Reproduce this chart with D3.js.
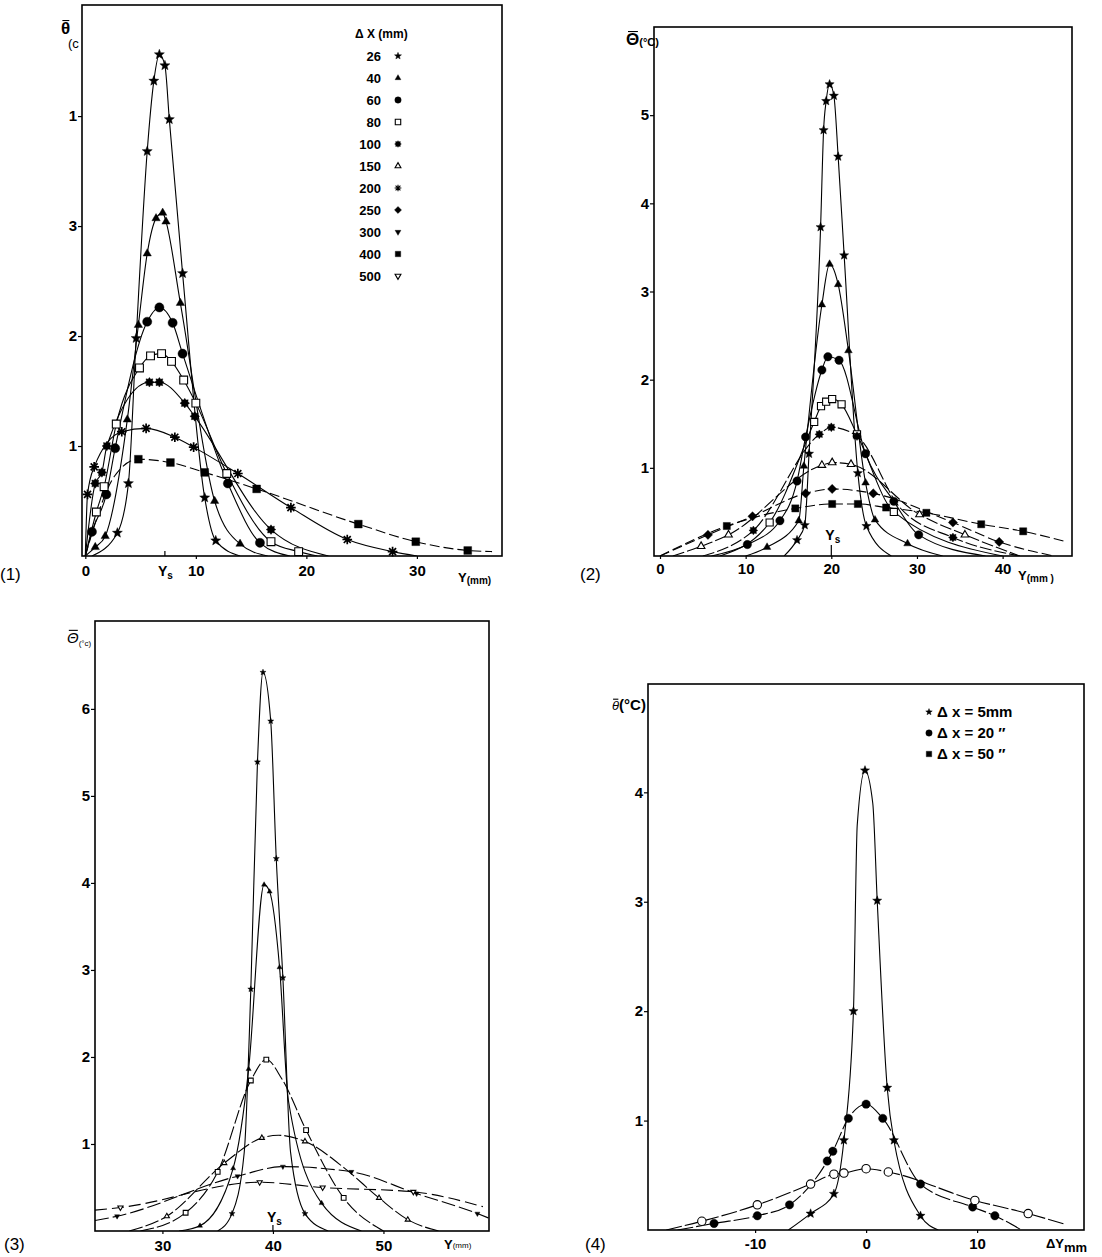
<!DOCTYPE html>
<html><head><meta charset="utf-8">
<script src="https://cdn.jsdelivr.net/npm/d3@7"></script>
<style>body{margin:0;background:#fff}svg{display:block}</style>
</head><body><svg id="fig" width="1102" height="1257"></svg>
<script>
// Mean temperature excess profiles across the plume, four figures.
// Each point is [Y, theta]; a third element 0 marks a curve-only point (no symbol).

// ---------- figure (1) ----------
const p1_dx26  = [[0.6,0,0],[2.9,0.21],[3.9,0.66],[4.6,1.98],[5.6,3.68],[6.2,4.32],[6.7,4.56],[7.2,4.46],[7.6,3.97],[8.8,2.57],[10.8,0.53],[11.8,0.14],[14,0,0]];
const p1_dx40  = [[0,0,0],[0.9,0.08],[1.8,0.18],[3.8,1.24],[4.8,2.1],[5.6,2.75],[6.4,3.07],[7.0,3.12],[7.3,3.04],[8.6,2.3],[11.7,0.5],[14.0,0.11],[16.5,0,0]];
const p1_dx60  = [[0,0,0],[0.6,0.22],[1.9,0.56],[2.7,0.98],[5.6,2.13],[6.7,2.26],[7.9,2.12],[8.8,1.84],[12.9,0.66],[15.8,0.12],[18.5,0,0]];
const p1_dx80  = [[0,0,0],[1.0,0.40],[1.7,0.63],[2.8,1.2],[4.9,1.71],[5.9,1.82],[6.9,1.84],[7.8,1.77],[8.9,1.60],[10.0,1.39],[12.8,0.75],[16.8,0.13],[19.3,0.04],[21,0,0]];
const p1_dx100 = [[0,0,0],[0.9,0.66],[1.5,0.76],[1.95,1.0],[5.8,1.58],[6.7,1.58],[9.0,1.39],[9.9,1.27],[16.8,0.24],[22,0,0]];
const p1_dx200 = [[0,0,0],[0.2,0.56],[0.8,0.81],[3.3,1.13],[5.5,1.16],[8.1,1.08],[9.8,0.99],[13.8,0.75],[18.6,0.44],[23.7,0.15],[27.8,0.04],[30,0,0]];
const p1_dx400 = [[0,0,0],[2.6,0.72,0],[4.8,0.88],[7.7,0.85],[10.8,0.76],[15.5,0.61],[24.7,0.29],[29.9,0.13],[34.6,0.05],[36.8,0.04,0]];
const p1_Ys = 7.2;
const p1XTicks = [0,10,20,30];
const p1YTicks = [1,2,3,4];
const p1YTickText = ["1","2","3","1"];
const p1LegendLabels = ["26","40","60","80","100","150","200","250","300","400","500"];
const p1LegendSymbols = ["star","tri","dot","sqo","rose","trio","ast","dia","trid","sq","triod"];

// ---------- figure (2) ----------
const p2_dx26  = [[14.5,0,0],[16.0,0.18],[16.9,0.35],[17.4,1.16],[18.75,3.73],[19.1,4.83],[19.4,5.16],[19.8,5.35],[20.3,5.22],[20.8,4.53],[21.5,3.41],[23.1,0.94],[24.1,0.34],[27,0,0]];
const p2_dx40  = [[10,0,0],[12.5,0.10],[16.2,0.40],[16.8,1.02],[18.9,2.85],[19.8,3.31],[20.8,3.08],[22.0,2.33],[24.0,0.83],[25.1,0.41],[28.9,0.14],[33,0,0]];
const p2_dx60  = [[6,0,0],[10.2,0.13],[14.0,0.40],[16.0,0.85],[17.0,1.35],[18.9,2.11],[19.6,2.26],[20.9,2.22],[24.0,1.16],[27.3,0.62],[30.2,0.24],[38,0,0]];
const p2_dx80  = [[7,0,0],[12.8,0.38],[18.0,1.52],[18.8,1.70],[19.4,1.75],[20.1,1.78],[21.2,1.72],[23.0,1.38],[27.3,0.50],[40,0,0]];
const p2_dx100 = [[5,0,0],[10.9,0.29],[18.6,1.38],[20.0,1.46],[23.0,1.36],[28,0.55,0],[34.2,0.21],[42,0,0]];
const p2_dx150 = [[1.5,0,0],[4.8,0.11],[8.0,0.24],[18.9,1.03],[20.1,1.06],[22.3,1.04],[30.3,0.47],[35.6,0.24],[42,0,0]];
const p2_dx250 = [[0,0,0],[5.6,0.24],[10.8,0.45],[17.0,0.71],[20.1,0.76],[24.9,0.71],[34.2,0.38],[39.6,0.16],[46,0,0]];
const p2_dx400 = [[0,0,0],[7.8,0.34],[15.8,0.54],[20.1,0.59],[23.1,0.59],[26.4,0.55],[31.1,0.49],[37.5,0.36],[42.4,0.28],[47.5,0.16,0]];
const p2_Ys = 20;
const p2XTicks = [0,10,20,30,40];
const p2YTicks = [1,2,3,4,5];

// ---------- figure (3) ----------
const p3_dx26  = [[35,0,0],[36.3,0.20],[37.4,0.9,0],[38.0,2.78],[38.6,5.39],[39.1,6.42],[39.8,5.86],[40.3,4.28],[40.9,2.91],[41.6,0.9,0],[42.9,0.20],[45,0,0]];
const p3_dx40  = [[31.5,0,0],[33.4,0.06],[36.4,0.72],[37.8,1.86],[39.2,3.98],[39.7,3.90],[40.6,3.03],[41.4,1.5,0],[44.4,0.32],[48,0,0]];
const p3_dx80  = [[28,0,0],[32.1,0.21],[35.0,0.68],[38.0,1.73],[39.4,1.97],[40.8,1.75,0],[43.0,1.16],[46.4,0.38],[50,0,0]];
const p3_dx150 = [[27,0,0],[30.4,0.17],[35.6,0.78],[39.0,1.07],[40.5,1.1,0],[42.9,1.03],[46.5,0.72,0],[49.6,0.38],[52.2,0.13],[55,0,0]];
const p3_dx300 = [[23.9,0.12,0],[25.9,0.17],[36.8,0.63],[40.9,0.74],[47.1,0.68],[53.0,0.43],[58.5,0.20],[59.5,0.15,0]];
const p3_dx500 = [[23.9,0.24,0],[26.2,0.27],[38.8,0.56],[44.5,0.50],[52.7,0.45],[59.0,0.28,0]];
const p3_Ys = 40;
const p3XTicks = [30,40,50];
const p3YTicks = [1,2,3,4,5,6];

// ---------- figure (4) ----------
const p4_dx5  = [[-7,0,0],[-5.0,0.15],[-2.9,0.33],[-2.0,0.82],[-1.14,2.0],[-0.8,3.7,0],[-0.1,4.2],[0.6,3.9,0],[1.0,3.01],[1.9,1.30],[2.5,0.82],[4.9,0.13],[6.5,0,0]];
const p4_dx20 = [[-17,0,0],[-13.7,0.06],[-9.8,0.13],[-6.9,0.23],[-3.5,0.63],[-3.0,0.72],[-1.6,1.02],[0,1.15],[1.5,1.02],[4.9,0.42],[9.6,0.21],[11.6,0.13],[14,0,0]];
const p4_dx50 = [[-18,0,0],[-14.8,0.08],[-9.8,0.23],[-5.0,0.42],[-2.9,0.51],[-2.0,0.52],[0,0.56],[2.0,0.53],[9.8,0.27],[14.6,0.15],[18,0.05,0]];
const p4XTicks = [-10,0,10];
const p4YTicks = [1,2,3,4];
const p4LegendLabels = ["\u0394 x =  5mm","\u0394 x = 20 \u2033","\u0394 x = 50 \u2033"];
const p4LegendSymbols = ["star","dot","sq"];

// ---------- drawing ----------
const FONT = "'Liberation Sans', Arial, Helvetica, sans-serif";
const svg = d3.select("#fig");

function poly(n, ro, ri, rotDeg) {
  const pts = [];
  const m = ri == null ? n : 2 * n;
  for (let i = 0; i < m; i++) {
    const r = ri == null ? ro : (i % 2 ? ri : ro);
    const a = (rotDeg * Math.PI / 180) + i * 2 * Math.PI / m;
    pts.push([r * Math.cos(a), r * Math.sin(a)]);
  }
  return "M" + pts.map(p => p[0].toFixed(2) + "," + p[1].toFixed(2)).join("L") + "Z";
}
function circ(r) { return `M${r},0A${r},${r} 0 1,1 ${-r},0A${r},${r} 0 1,1 ${r},0Z`; }

function marker(g, kind, cx, cy, r) {
  const t = `translate(${cx},${cy})`;
  const open = ["sqo","trio","triod","circo"].includes(kind);
  let d;
  switch (kind) {
    case "star": d = poly(5, r * 1.15, r * 0.5, -90); break;
    case "tri": case "trio": d = poly(3, r * 1.05, null, -90); break;
    case "trid": case "triod": d = poly(3, r * 1.05, null, 90); break;
    case "dia": d = poly(4, r * 1.1, null, -90); break;
    case "sq": case "sqo": { const s = r * 0.85; d = `M${-s},${-s}H${s}V${s}H${-s}Z`; break; }
    case "rose": d = poly(8, r * 1.05, r * 0.72, -90); break;
    case "ast": {
      const a = r * 1.05, b = a * 0.72;
      g.append("path").attr("transform", t)
        .attr("d", `M0,${-a}V${a}M${-a},0H${a}M${-b},${-b}L${b},${b}M${-b},${b}L${b},${-b}`)
        .attr("stroke", "#000").attr("stroke-width", r < 4 ? 1.1 : 1.7).attr("fill", "none");
      if (r >= 4) g.append("path").attr("transform", t).attr("d", circ(r * 0.35)).attr("fill", "#000");
      return;
    }
    default: d = circ(r);
  }
  g.append("path").attr("transform", t).attr("d", d)
    .attr("fill", open ? "#fff" : "#000")
    .attr("stroke", "#000").attr("stroke-width", open ? 1.1 : 0.4);
}

// text made of tspans; parts with bar:true get a short overbar drawn above the glyph
function txt(g, x, y, parts, opts = {}) {
  const t = g.append("text").attr("x", x).attr("y", y)
    .attr("font-family", FONT).attr("fill", "#000")
    .attr("text-anchor", opts.anchor || "start");
  const spans = parts.map(p => {
    const s = t.append("tspan").text(p.s).attr("font-size", p.size || 15)
      .attr("font-weight", p.w || "bold");
    if (p.dy) s.attr("dy", p.dy);
    if (p.italic) s.attr("font-style", "italic");
    return s;
  });
  parts.forEach((p, i) => {
    if (!p.bar) return;
    const bb = spans[i].node().getBBox();
    const top = bb.y + bb.height * 0.08;
    g.append("line").attr("x1", bb.x + bb.width * 0.15).attr("x2", bb.x + bb.width * 0.9)
      .attr("y1", top).attr("y2", top).attr("stroke", "#000").attr("stroke-width", 1.1);
  });
  return t;
}

function panel(cfg) {
  const g = svg.append("g");
  const f = cfg.frame;
  const x = d3.scaleLinear().domain(cfg.xDomain).range([f.l, f.r]);
  const y = d3.scaleLinear().domain(cfg.yDomain).range([f.b, f.t]);
  const cid = "clip" + cfg.id;
  svg.append("clipPath").attr("id", cid).append("rect")
    .attr("x", f.l).attr("y", f.t).attr("width", f.r - f.l).attr("height", f.b - f.t);

  // axes (ticks + labels); the box is drawn separately
  const ya = g.append("g").attr("transform", `translate(${f.l},0)`)
    .call(d3.axisLeft(y).tickValues(cfg.yTicks).tickSize(4).tickPadding(1)
      .tickFormat((d, i) => cfg.yTickText ? cfg.yTickText[i] : d));
  const xa = g.append("g").attr("transform", `translate(0,${f.b})`)
    .call(d3.axisBottom(x).tickValues(cfg.xTicks).tickSize(3).tickPadding(cfg.xPad || 5)
      .tickFormat(d => d));
  [ya, xa].forEach(a => {
    a.select(".domain").remove();
    a.selectAll("line").attr("stroke", "#000").attr("stroke-width", 1.2);
    a.selectAll("text").attr("font-family", FONT).attr("font-weight", "bold")
      .attr("font-size", cfg.tickFont || 15).attr("fill", "#000");
  });

  // curves
  const line = d3.line().x(d => x(d[0])).y(d => y(d[1])).curve(d3.curveMonotoneX);
  const cg = g.append("g").attr("clip-path", `url(#${cid})`);
  cfg.series.forEach(s => {
    cg.append("path").attr("d", line(s.data)).attr("fill", "none")
      .attr("stroke", "#000").attr("stroke-width", 1.1)
      .attr("stroke-dasharray", s.dash || null);
  });
  cfg.series.forEach(s => {
    s.data.filter(d => d[2] !== 0).forEach(d => marker(g, s.sym, x(d[0]), y(d[1]), cfg.r));
  });

  // frame
  g.append("rect").attr("x", f.l).attr("y", f.t).attr("width", f.r - f.l).attr("height", f.b - f.t)
    .attr("fill", "none").attr("stroke", "#000").attr("stroke-width", 1.6);
  return { g, x, y };
}

// (1)
const P1 = panel({
  id: 1, frame: { l: 82, r: 502, t: 5, b: 556 }, xDomain: [-0.3, 37.7], yDomain: [0, 5.01],
  xTicks: p1XTicks, yTicks: p1YTicks, yTickText: p1YTickText, r: 4.6, xPad: 6,
  series: [
    { data: p1_dx26, sym: "star" }, { data: p1_dx40, sym: "tri" }, { data: p1_dx60, sym: "dot" },
    { data: p1_dx80, sym: "sqo" }, { data: p1_dx100, sym: "rose" }, { data: p1_dx200, sym: "ast" },
    { data: p1_dx400, sym: "sq", dash: "10,4" }
  ]
});
P1.g.append("line").attr("x1", P1.x(p1_Ys)).attr("x2", P1.x(p1_Ys)).attr("y1", 556).attr("y2", 551)
  .attr("stroke", "#000").attr("stroke-width", 1.2);
txt(P1.g, P1.x(p1_Ys) - 7, 576, [{ s: "Y", size: 14 }, { s: "s", size: 10, dy: 3 }]);
txt(P1.g, 458, 582, [{ s: "Y", size: 13 }, { s: "(mm)", size: 10, dy: 2 }]);
txt(P1.g, 61, 34, [{ s: "\u03b8", size: 17, bar: true }]);
txt(P1.g, 68, 48, [{ s: "(c", size: 13, w: "normal" }]);
txt(P1.g, 0, 580, [{ s: "(1)", size: 17, w: "normal" }]);
// legend
txt(P1.g, 355, 38, [{ s: "\u0394 X (mm)", size: 12 }]);
p1LegendLabels.forEach((lab, i) => {
  const cy = 56 + i * 22;
  txt(P1.g, 381, cy + 5, [{ s: lab, size: 13 }], { anchor: "end" });
  marker(P1.g, p1LegendSymbols[i], 398, cy, 3.2);
});

// (2)
const P2 = panel({
  id: 2, frame: { l: 654, r: 1072, t: 27, b: 556 }, xDomain: [-0.7, 48.1], yDomain: [0, 6.0],
  xTicks: p2XTicks, yTicks: p2YTicks, r: 4.2, xPad: 4,
  series: [
    { data: p2_dx26, sym: "star" }, { data: p2_dx40, sym: "tri" }, { data: p2_dx60, sym: "dot" },
    { data: p2_dx80, sym: "sqo" }, { data: p2_dx100, sym: "rose", dash: "12,3" },
    { data: p2_dx150, sym: "trio", dash: "12,3" }, { data: p2_dx250, sym: "dia", dash: "10,4" },
    { data: p2_dx400, sym: "sq", dash: "10,4" }
  ]
});
P2.g.append("line").attr("x1", P2.x(p2_Ys)).attr("x2", P2.x(p2_Ys)).attr("y1", 556).attr("y2", 545)
  .attr("stroke", "#000").attr("stroke-width", 1.2);
txt(P2.g, P2.x(p2_Ys) - 6, 540, [{ s: "Y", size: 14 }, { s: "s", size: 10, dy: 3 }]);
txt(P2.g, 1018, 580, [{ s: "Y", size: 13 }, { s: "(mm", size: 10, dy: 2 }, { s: " )", size: 10 }]);
txt(P2.g, 626, 45, [{ s: "\u0398", size: 17, bar: true }, { s: "(\u00b0C)", size: 11, dy: 1 }]);
txt(P2.g, 580, 580, [{ s: "(2)", size: 17, w: "normal" }]);

// (3)
const P3 = panel({
  id: 3, frame: { l: 95, r: 489, t: 621, b: 1231 }, xDomain: [23.9, 59.55], yDomain: [0, 7.01],
  xTicks: p3XTicks, yTicks: p3YTicks, r: 2.8, xPad: 6,
  series: [
    { data: p3_dx26, sym: "star" }, { data: p3_dx40, sym: "tri" },
    { data: p3_dx80, sym: "sqo", dash: "14,3" }, { data: p3_dx150, sym: "trio", dash: "14,3" },
    { data: p3_dx300, sym: "trid", dash: "14,4" }, { data: p3_dx500, sym: "triod", dash: "12,5" }
  ]
});
P3.g.append("line").attr("x1", P3.x(p3_Ys)).attr("x2", P3.x(p3_Ys)).attr("y1", 1231).attr("y2", 1225)
  .attr("stroke", "#000").attr("stroke-width", 1.2);
txt(P3.g, P3.x(p3_Ys) - 6, 1222, [{ s: "Y", size: 14 }, { s: "s", size: 10, dy: 3 }]);
txt(P3.g, 444, 1249, [{ s: "Y", size: 13 }, { s: "(mm)", size: 8, w: "normal", dy: -1 }]);
txt(P3.g, 67, 643, [{ s: "\u0398", size: 15, w: "normal", italic: true, bar: true }, { s: "(\u00b0c)", size: 8, w: "normal", dy: 3 }]);
txt(P3.g, 4, 1250, [{ s: "(3)", size: 17, w: "normal" }]);

// (4)
const P4 = panel({
  id: 4, frame: { l: 648, r: 1084, t: 684, b: 1230 }, xDomain: [-19.65, 19.63], yDomain: [0, 4.99],
  xTicks: p4XTicks, yTicks: p4YTicks, r: 4.2, xPad: 5,
  series: [
    { data: p4_dx5, sym: "star" }, { data: p4_dx20, sym: "dot", dash: "16,3" },
    { data: p4_dx50, sym: "circo", dash: "16,3" }
  ]
});
txt(P4.g, 1046, 1248, [{ s: "\u0394Y", size: 13 }, { s: "mm", size: 13, dy: 4 }]);
txt(P4.g, 612, 710, [{ s: "\u03b8", size: 13, w: "normal", italic: true, bar: true }, { s: "(\u00b0C)", size: 15 }]);
txt(P4.g, 585, 1250, [{ s: "(4)", size: 17, w: "normal" }]);
p4LegendLabels.forEach((lab, i) => {
  const cy = 712 + i * 21;
  marker(P4.g, p4LegendSymbols[i], 929, cy, i === 0 ? 3 : 3.2);
  txt(P4.g, 937, cy + 5, [{ s: lab, size: 15 }]);
});
</script></body></html>
